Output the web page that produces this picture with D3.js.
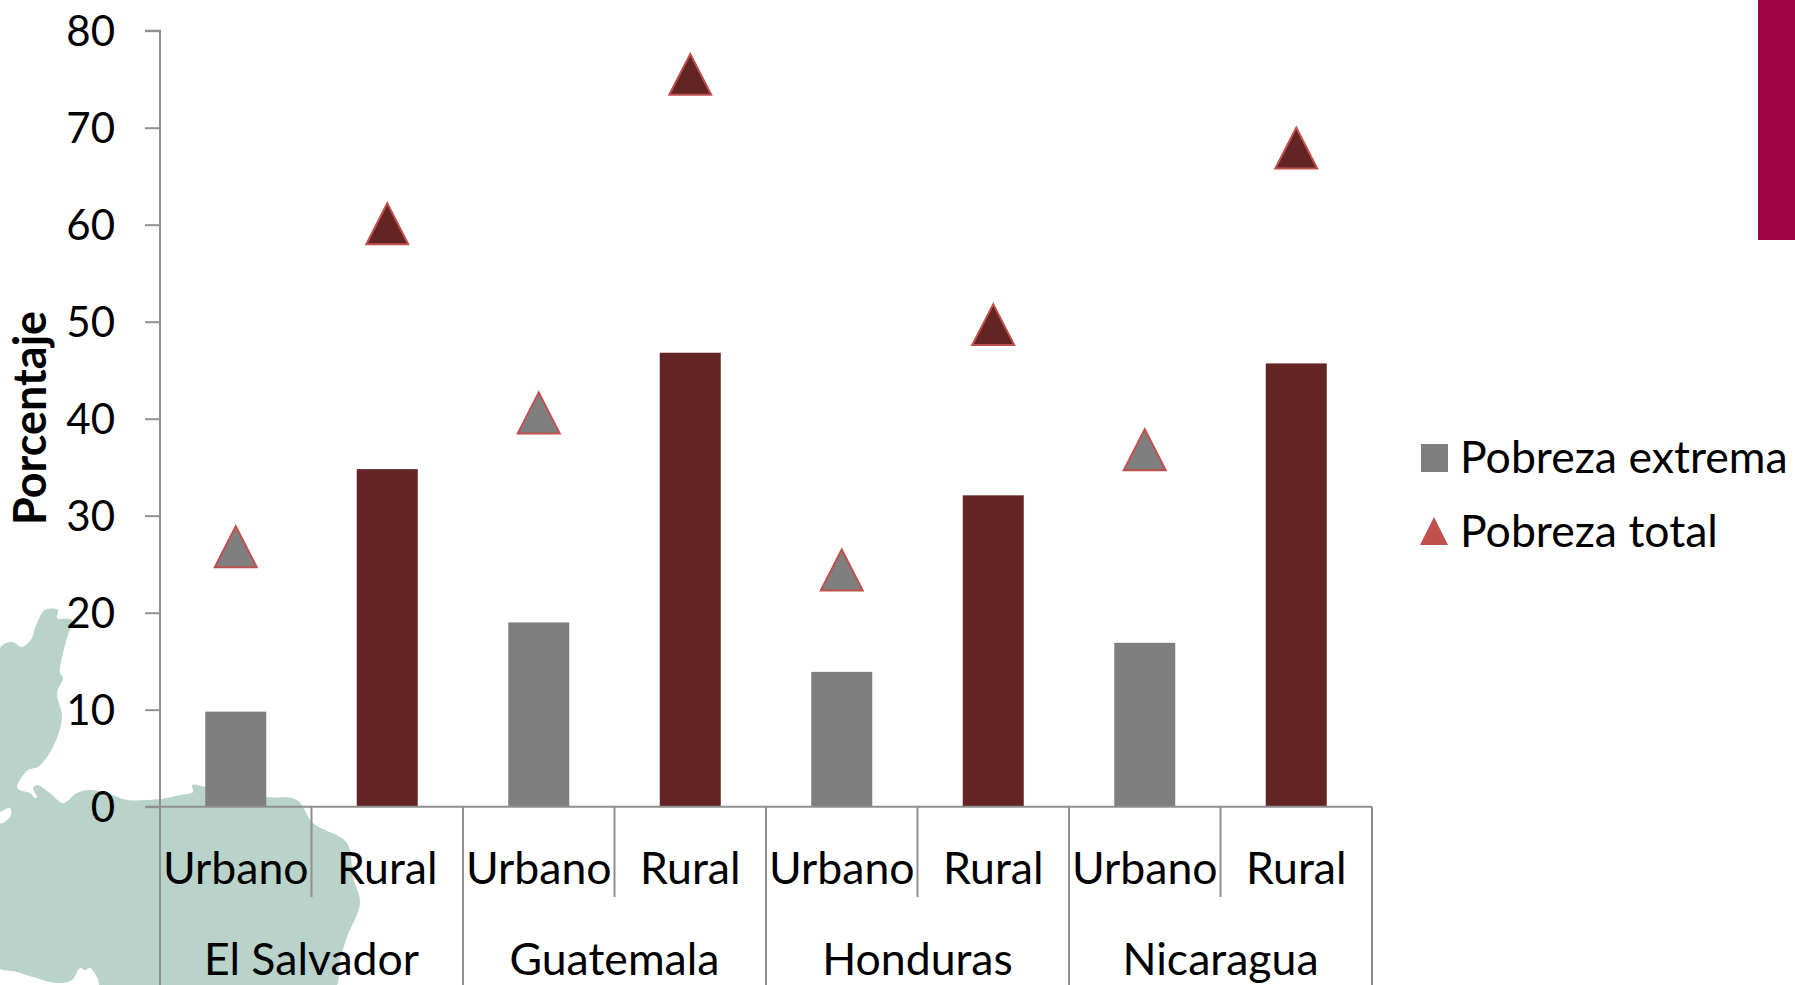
<!DOCTYPE html>
<html><head><meta charset="utf-8">
<script src="https://cdn.jsdelivr.net/npm/d3@7"></script>
<style>html,body{margin:0;padding:0;background:#fff;overflow:hidden}svg{display:block}</style>
</head><body><svg id="c" width="1795" height="985"></svg>
<script>
const countries = ["El Salvador","Guatemala","Honduras","Nicaragua"];
const areas = ["Urbano","Rural"];
const pobrezaExtrema = [9.8,34.8,19.0,46.8,13.9,32.1,16.9,45.7];
const pobrezaTotal = [26.8,60.1,40.6,75.5,24.4,49.7,36.8,67.9];
const yTicks = [0,10,20,30,40,50,60,70,80];
const legendLabels = ["Pobreza extrema","Pobreza total"];
const mapOutline = [[0,648],[12,642],[22,647],[32,638],[35,628],[45,610],[58,610],[57,618],[72,620],[68,635],[63,653],[60,673],[63,678],[57,693],[62,717],[53,747],[38,767],[28,770],[17,787],[20,790],[30,793],[35,798],[37,797],[33,788],[37,785],[50,793],[63,803],[77,793],[90,790],[107,793],[127,800],[147,800],[167,798],[180,795],[193,792],[192,785],[207,787],[240,792],[267,797],[297,800],[313,823],[347,843],[353,877],[360,903],[347,937],[340,960],[333,990],[103,990],[97,977],[90,968],[85,970],[80,968],[72,980],[57,983],[33,977],[17,972],[-5,965],[-5,824],[3,823],[11,815],[10,808],[-5,812]];

const FONT = "Lato, 'Noto Sans', sans-serif", FS = 44.6, AXC = "#8f8f8f";
const GREY = "#7f7f7f", DARK = "#632523", RED = "#c0504d";
const svg = d3.select("#c");
const keys = d3.range(pobrezaExtrema.length);
const x = d3.scaleBand().domain(keys).range([160,1372]);
const y = d3.scaleLinear().domain([0,80]).range([806.7,30.7]);
const fillOf = i => i%2 ? DARK : GREY;
const label = s => s.attr("font-family",FONT).attr("font-size",FS).attr("fill","#000");

// background shapes
svg.append("path").attr("d",d3.line().curve(d3.curveCatmullRomClosed.alpha(0.5))(mapOutline)).attr("fill","#b9d2ca");
svg.append("rect").attr("x",1758).attr("y",0).attr("width",37).attr("height",240).attr("fill","#a10444");

// bars
svg.append("g").selectAll("rect").data(pobrezaExtrema).join("rect")
  .attr("x",(d,i)=>x(i)+x.bandwidth()/2-30.5).attr("width",61)
  .attr("y",d=>y(d)).attr("height",d=>y(0)-y(d)).attr("fill",(d,i)=>fillOf(i));

// triangle markers
const tri = (w,h)=>{const p=d3.path();p.moveTo(0,-h/2);p.lineTo(w/2,h/2);p.lineTo(-w/2,h/2);p.closePath();return p.toString();};
svg.append("g").selectAll("path").data(pobrezaTotal).join("path")
  .attr("d",tri(42,41))
  .attr("transform",(d,i)=>`translate(${x(i)+x.bandwidth()/2},${y(d)})`)
  .attr("fill",(d,i)=>fillOf(i)).attr("stroke",RED).attr("stroke-width",2);

// y axis
const gy = svg.append("g").attr("transform","translate(160,0)")
  .call(d3.axisLeft(y).tickValues(yTicks).tickSize(15).tickPadding(30));
gy.selectAll("path,line").attr("stroke",AXC).attr("stroke-width",2);
gy.select(".domain").attr("d",`M-15,${y(80)}H0V${y(0)}H-15`);
gy.selectAll("text").call(label).attr("font-size",42).attr("dy","0.36em");

// x axis: baseline, separators, two label rows
const g = svg.append("g");
g.append("line").attr("x1",160).attr("x2",1372).attr("y1",y(0)).attr("y2",y(0)).attr("stroke",AXC).attr("stroke-width",2);
d3.range(keys.length+1).forEach(i=>{
  const xp = i<keys.length ? x(i) : x.range()[1];
  g.append("line").attr("x1",xp).attr("x2",xp).attr("y1",y(0)).attr("y2",i%2?897:985)
    .attr("stroke",AXC).attr("stroke-width",2);
});
g.selectAll("text.a").data(keys).join("text").attr("class","a").call(label)
  .attr("x",i=>x(i)+x.bandwidth()/2).attr("y",884).attr("text-anchor","middle").text(i=>areas[i%2]);
g.selectAll("text.c").data(countries).join("text").attr("class","c").call(label)
  .attr("x",(d,i)=>x(i*2)+x.bandwidth()).attr("y",975).attr("text-anchor","middle").text(d=>d);

// axis title
svg.append("text").call(label).attr("font-weight","bold").attr("font-size",45)
  .attr("transform","translate(46,418) rotate(-90)").attr("text-anchor","middle").text("Porcentaje");

// legend
svg.append("rect").attr("x",1421).attr("y",444).attr("width",27).attr("height",28).attr("fill",GREY);
svg.append("path").attr("d",tri(28,28)).attr("transform","translate(1434,531)").attr("fill",RED);
svg.selectAll("text.l").data(legendLabels).join("text").attr("class","l").call(label)
  .attr("x",1460).attr("y",(d,i)=>i?547:473).text(d=>d);
</script></body></html>
